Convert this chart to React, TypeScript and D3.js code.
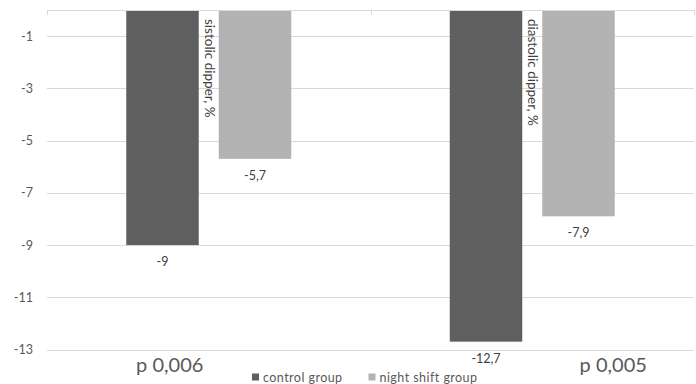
import React from "react";
import * as d3 from "d3";

// Chart data
const categories = ["sistolic", "diastolic"];
const categoryTitles = ["sistolic dipper, %", "diastolic dipper, %"];
const pValueLabels = ["p 0,006", "p 0,005"];
const seriesNames = ["control group", "night shift group"];
const controlValues = [-9, -12.7];
const nightShiftValues = [-5.7, -7.9];
const yTicks = [-1, -3, -5, -7, -9, -11, -13];

const seriesColors = ["#5f5f5f", "#b3b3b3"];

const W = 696;
const H = 384;
const margin = { left: 47, right: 2, top: 10, bottom: 34.5 };
const FONT = "Lato, 'Open Sans', sans-serif";
const textColor = "#595959";
const labelColor = "#404040";
const gridColor = "#d9d9d9";

// p-value label offsets relative to each category centre
const pLabelOffsets = [-39, 81];

const fmt = (v: number) => String(v).replace(".", ",");

export default function App() {
  const x0 = d3
    .scaleBand<string>()
    .domain(categories)
    .range([margin.left, W - margin.right])
    .paddingInner(0)
    .paddingOuter(0);

  const y = d3.scaleLinear().domain([0, -13]).range([margin.top, H - margin.bottom]);

  const groupWidth = 165;
  const x1 = d3
    .scaleBand<number>()
    .domain([0, 1])
    .range([-groupWidth / 2, groupWidth / 2])
    .paddingInner(20 / 92.5)
    .paddingOuter(0);

  const series = [controlValues, nightShiftValues];
  const plotLeft = margin.left;
  const plotRight = W - margin.right;

  return (
    <svg
      width={W}
      height={H}
      style={{ position: "absolute", left: 0, top: 0, background: "#fff" }}
      fontFamily={FONT}
    >
      {/* gridlines */}
      {yTicks.map((t) => (
        <line
          key={t}
          x1={plotLeft}
          x2={plotRight}
          y1={Math.round(y(t)) + 0.5}
          y2={Math.round(y(t)) + 0.5}
          stroke={gridColor}
          strokeWidth={1}
        />
      ))}
      {/* y tick labels */}
      {yTicks.map((t) => (
        <text
          key={"l" + t}
          x={33}
          y={y(t)}
          textAnchor="end"
          dominantBaseline="central"
          fontSize={12.5}
          fill={textColor}
        >
          {t}
        </text>
      ))}

      {/* bars */}
      {categories.map((c, ci) => {
        const cx = (x0(c) as number) + x0.bandwidth() / 2;
        return series.map((vals, si) => {
          const v = vals[ci];
          const bx = cx + (x1(si) as number);
          return (
            <g key={c + si}>
              <rect
                x={bx}
                y={y(0)}
                width={x1.bandwidth()}
                height={y(v) - y(0)}
                fill={seriesColors[si]}
              />
              <text
                x={bx + x1.bandwidth() / 2}
                y={y(v) + 16.5}
                textAnchor="middle"
                dominantBaseline="central"
                fontSize={12.5}
                fill={labelColor}
              >
                {fmt(v)}
              </text>
            </g>
          );
        });
      })}

      {/* category axis along the zero line */}
      <line
        x1={plotLeft}
        x2={plotRight}
        y1={Math.round(y(0)) + 0.5}
        y2={Math.round(y(0)) + 0.5}
        stroke={gridColor}
      />
      {[...categories.map((c) => x0(c) as number), plotRight].map((tx, i) => (
        <line
          key={"tk" + i}
          x1={Math.round(tx) + 0.5}
          x2={Math.round(tx) + 0.5}
          y1={y(0)}
          y2={y(0) + 5}
          stroke={gridColor}
        />
      ))}

      {/* vertical category titles between the bars */}
      {categories.map((c, ci) => {
        const cx = (x0(c) as number) + x0.bandwidth() / 2;
        return (
          <text
            key={"t" + c}
            transform={`translate(${cx + 1},${19}) rotate(90)`}
            dominantBaseline="central"
            fontSize={13.5}
            fill={labelColor}
          >
            {categoryTitles[ci]}
          </text>
        );
      })}

      {/* p-value labels */}
      {categories.map((c, ci) => {
        const cx = (x0(c) as number) + x0.bandwidth() / 2;
        return (
          <text
            key={"p" + c}
            x={cx + pLabelOffsets[ci]}
            y={372}
            textAnchor="middle"
            fontSize={20}
            fill={textColor}
          >
            {pValueLabels[ci]}
          </text>
        );
      })}

      {/* legend */}
      {seriesNames.map((name, i) => {
        const lx = 252 + i * 116.5;
        return (
          <g key={name}>
            <rect x={lx} y={373.5} width={7} height={7} fill={seriesColors[i]} />
            <text
              x={lx + 11}
              y={377}
              dominantBaseline="central"
              fontSize={12.5}
              letterSpacing={0.45}
              fill={textColor}
            >
              {name}
            </text>
          </g>
        );
      })}
    </svg>
  );
}
